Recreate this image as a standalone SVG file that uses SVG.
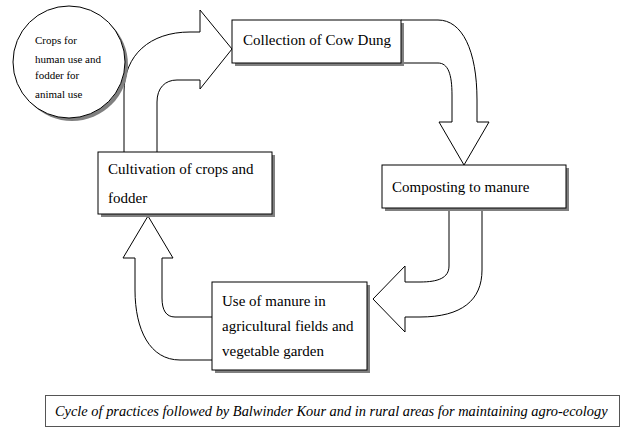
<svg xmlns="http://www.w3.org/2000/svg" width="629" height="428" viewBox="0 0 629 428">
<style>
.box{fill:#fff;stroke:#000;stroke-width:1}
.sh{fill:#808080}
.arr{fill:#fff;stroke:#000;stroke-width:1;stroke-linejoin:miter}
text{font-family:"Liberation Serif","Times New Roman",serif;fill:#000}
.t{font-size:15px}
.s{font-size:11px}
.c{font-size:14.4px;font-style:italic}
</style>
<rect width="629" height="428" fill="#fff"/>
<g id="connectors">
<path class="arr" d="M124,153 L124,92 C124,55 150,32 190,32 L200,32 L200,10 L232,49 L200,89 L200,80 L177,80 C165,80 157,88 157,102 L157,153"/>
<path class="arr" d="M401,20 L438,20 C462,20 477,50 477,100 L477,122 L489,122 L464,165 L439,122 L452,122 L452,95 C452,74 448,63 438,63 L401,63"/>
<path class="arr" d="M449,211 L449,266 C449,278 438,282 420,282 L405,282 L405,266 L373,299 L405,332 L405,317 L420,317 C462,317 482,300 482,270 L482,211"/>
<path class="arr" d="M212,360 L180,360 C150,360 135,330 135,290 L135,258 L123,258 L148,216 L173,258 L162,258 L162,298 C162,310 166,317 175,317 L212,317"/>
</g>
<g id="node-circle">
<circle class="sh" cx="72" cy="65" r="56"/>
<circle class="box" cx="69" cy="62" r="56"/>
<text class="s" x="35" y="44">Crops for</text>
<text class="s" x="35" y="63">human use and</text>
<text class="s" x="35" y="79">fodder for</text>
<text class="s" x="35" y="98">animal use</text>
</g>
<g id="node-collection">
<rect class="sh" x="235" y="23" width="169" height="43"/>
<rect class="box" x="232" y="20" width="169" height="43"/>
<text class="t" x="243" y="45">Collection of Cow Dung</text>
</g>
<g id="node-composting">
<rect class="sh" x="385" y="168" width="184" height="43"/>
<rect class="box" x="382" y="165" width="184" height="43"/>
<text class="t" x="392" y="192">Composting to manure</text>
</g>
<g id="node-use">
<rect class="sh" x="215" y="285" width="155" height="88"/>
<rect class="box" x="212" y="282" width="155" height="88"/>
<text class="t" x="222" y="306">Use of manure in</text>
<text class="t" x="222" y="331">agricultural fields and</text>
<text class="t" x="222" y="356">vegetable garden</text>
</g>
<g id="node-cultivation">
<rect class="sh" x="101" y="155" width="174" height="62"/>
<rect class="box" x="98" y="152" width="174" height="62"/>
<text class="t" x="108" y="174">Cultivation of crops and</text>
<text class="t" x="108" y="203">fodder</text>
</g>
<g id="caption">
<rect class="box" x="45.5" y="395.5" width="574" height="31" style="stroke:#555"/>
<text class="c" x="55" y="416">Cycle of practices followed by Balwinder Kour and in rural areas for maintaining agro-ecology</text>
</g>
</svg>
